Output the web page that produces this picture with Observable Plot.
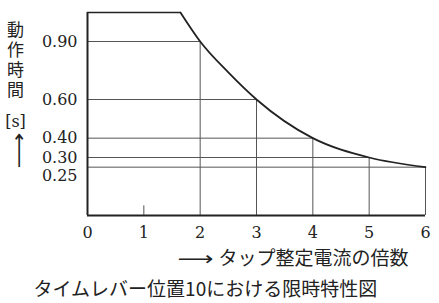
<!DOCTYPE html>
<html><head><meta charset="utf-8">
<script src="https://cdn.jsdelivr.net/npm/d3@7"></script>
<script src="https://cdn.jsdelivr.net/npm/@observablehq/plot@0.6"></script>
<style>body{margin:0;background:#fff;} svg{display:block;} .serif text{font-family:'DejaVu Serif',serif !important;}</style>
</head><body><div id="chart"></div>
<script>
const curveX = [1.65, 2, 2.5, 3, 4, 5, 6];
const curveY = [1.05, 0.90, 0.74, 0.60, 0.40, 0.30, 0.25];
const gridX = [2, 3, 4, 5, 6];
const gridY = [0.90, 0.60, 0.40, 0.30, 0.25];
const xTicks = [0, 1, 2, 3, 4, 5, 6];
const yMax = 1.05;
const xLabel = "タップ整定電流の倍数";
const yLabel = "動\n作\n時\n間";
const yUnit = "[s]";
const arrow = "⟶";
const caption = "タイムレバー位置10における限時特性図";

const curve = curveX.map((x, i) => ({x, y: curveY[i]}));
const grid = gridX.map((x, i) => ({x, y: gridY[i]}));
const cjk = "'Noto Sans CJK JP', sans-serif";
const serif = "'DejaVu Serif', serif";
const ink = "#222";

const chart = Plot.plot({
  width: 439, height: 303,
  marginLeft: 87, marginRight: 14, marginTop: 12, marginBottom: 88,
  style: {fontSize: "16px", color: ink, background: "#fff"},
  x: {domain: [0, 6], label: null},
  y: {domain: [0, yMax], label: null},
  marks: [
    Plot.axisX({ticks: xTicks, tickSize: 0, tickPadding: 11, tickFormat: d3.format("d"), fontSize: 16, fill: ink, label: null}),
    Plot.axisY({ticks: gridY.filter(v => v !== 0.25), tickSize: 0, tickPadding: 10, tickFormat: d3.format(".2f"), fontSize: 16, fill: ink, label: null}),
    Plot.axisY({ticks: gridY.filter(v => v === 0.25), tickSize: 0, tickPadding: 10, dy: 9, tickFormat: d3.format(".2f"), fontSize: 16, fill: ink, label: null}),
    Plot.ruleY(grid, {y: "y", x1: 0, x2: "x", stroke: "#555", strokeWidth: 1}),
    Plot.ruleX(grid, {x: "x", y1: 0, y2: "y", stroke: "#555", strokeWidth: 1}),
    Plot.ruleX([1], {y1: 0, y2: 0.05, stroke: "#555", strokeWidth: 1}),
    Plot.ruleY([yMax], {x1: 0, x2: curveX[0], stroke: ink, strokeWidth: 1.6}),
    Plot.ruleX([0], {y1: 0, y2: yMax, stroke: ink, strokeWidth: 2}),
    Plot.ruleY([0], {x1: 0, x2: 6, stroke: ink, strokeWidth: 2}),
    Plot.line(curve, {x: "x", y: "y", curve: "monotone-x", stroke: ink, strokeWidth: 1.8}),
    Plot.text([xLabel], {frameAnchor: "bottom-right", dx: -17, dy: 49, textAnchor: "end", fontFamily: cjk, fontSize: 19, fill: ink}),
    Plot.text([arrow], {frameAnchor: "bottom-right", dx: -212, dy: 49, textAnchor: "end", fontFamily: "'DejaVu Sans', sans-serif", fontSize: 19, fill: ink}),
    Plot.text([caption], {frameAnchor: "bottom-left", dx: -54, dy: 80, textAnchor: "start", fontFamily: cjk, fontSize: 19, fill: ink}),
    Plot.text([yLabel], {frameAnchor: "top-left", dx: -72, dy: 9, lineAnchor: "top", lineHeight: 1.18, textAnchor: "middle", fontFamily: cjk, fontSize: 17, fill: ink}),
    Plot.text([yUnit], {frameAnchor: "top-left", dx: -72, dy: 103, textAnchor: "middle", fontFamily: serif, fontSize: 16, fill: ink}),
    Plot.text([arrow], {frameAnchor: "top-left", dx: -76, dy: 138, rotate: -90, textAnchor: "middle", fontFamily: "'DejaVu Sans', sans-serif", fontSize: 19, fill: ink})
  ]
});
d3.select(chart).selectAll("g[aria-label$='tick label']").classed("serif", true).attr("font-family", serif);
d3.select(chart).selectAll("text").filter(function() { return this.textContent === arrow; })
  .attr("textLength", 36).attr("lengthAdjust", "spacingAndGlyphs");
document.getElementById("chart").appendChild(chart);
</script></body></html>
